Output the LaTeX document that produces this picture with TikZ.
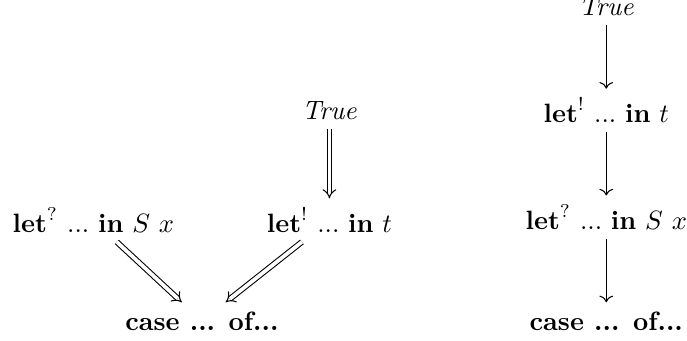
\documentclass[tikz,border=0pt]{standalone}
\usetikzlibrary{arrows.meta, positioning}

\begin{document}
\begin{tikzpicture}[
        node distance = 0.84cm and 3.08cm,
        term/.style = {inner sep=3.33pt},
        arrow/.style = {->},
        dblarrow/.style = {-{Implies}, double, double distance=1.4pt}
    ]
        \useasboundingbox (-76.2pt,-7.2pt) rectangle (183pt,121.1pt);

        % Left: two derivations meeting in case
        \node (caseL) [term] at (0,0) {\textbf{case ... of...}};
        \node (letqL) [term, above=0.8cm of caseL, xshift=-1.44cm] {$\mathbf{let}^{?}$ ...\ \textbf{in} $S~x$};
        \node (letbL) [term, above=0.8cm of caseL, xshift=1.69cm] {$\mathbf{let}^{!}$ ...\ \textbf{in} $t$};
        \node (trueL) [term, above=0.92cm of letbL] {\textit{True}};

        % Right: single chain
        \node (caseR) [term, right=of caseL] {\textbf{case ... of...}};
        \node (letqR) [term, above=of caseR] {$\mathbf{let}^{?}$ ...\ \textbf{in} $S~x$};
        \node (letbR) [term, above=of letqR] {$\mathbf{let}^{!}$ ...\ \textbf{in} $t$};
        \node (trueR) [term, above=of letbR] {\textit{True}};

        % Connections
        \draw [dblarrow] (trueL) -- (letbL);
        \draw [dblarrow] (letqL) -- (caseL);
        \draw [dblarrow] (letbL) -- (caseL);
        \draw [arrow] (trueR) -- (letbR);
        \draw [arrow] (letbR) -- (letqR);
        \draw [arrow] (letqR) -- (caseR);

    \end{tikzpicture}
\end{document}
